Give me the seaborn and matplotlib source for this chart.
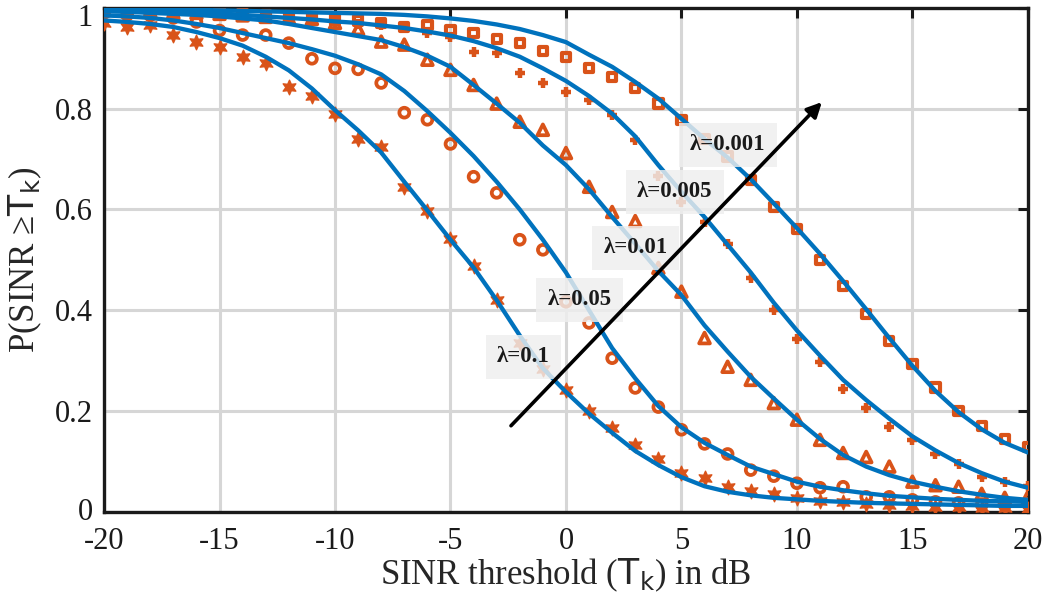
import matplotlib
matplotlib.use("Agg")
import matplotlib.pyplot as plt
import matplotlib.transforms as mtransforms
import numpy as np
import pandas as pd
import seaborn as sns

# ---------------- data ----------------
thr_db = list(range(-20, 21))

# analytical curves (blue lines)
ana_01 = [0.975, 0.972, 0.968, 0.962, 0.952, 0.940, 0.925, 0.903, 0.876, 0.840,
          0.797, 0.757, 0.713, 0.655, 0.598, 0.540, 0.485, 0.420, 0.350, 0.285,
          0.238, 0.195, 0.157, 0.121, 0.093, 0.069, 0.051, 0.040, 0.033, 0.028,
          0.025, 0.022, 0.020, 0.018, 0.017, 0.016, 0.015, 0.014, 0.013, 0.012, 0.012]
ana_005 = [0.985, 0.983, 0.980, 0.975, 0.968, 0.960, 0.950, 0.940, 0.930, 0.918,
           0.905, 0.888, 0.868, 0.835, 0.795, 0.752, 0.706, 0.655, 0.600, 0.540,
           0.475, 0.400, 0.325, 0.265, 0.210, 0.168, 0.137, 0.113, 0.090, 0.075,
           0.060, 0.050, 0.043, 0.037, 0.032, 0.029, 0.026, 0.024, 0.022, 0.021, 0.020]
ana_001 = [0.993, 0.992, 0.990, 0.988, 0.986, 0.983, 0.979, 0.975, 0.968, 0.960,
           0.952, 0.944, 0.936, 0.922, 0.905, 0.883, 0.847, 0.810, 0.772, 0.727,
           0.688, 0.640, 0.585, 0.532, 0.478, 0.430, 0.370, 0.318, 0.268, 0.225,
           0.183, 0.145, 0.113, 0.090, 0.073, 0.060, 0.050, 0.041, 0.034, 0.028, 0.024]
ana_0005 = [0.997, 0.996, 0.995, 0.993, 0.991, 0.989, 0.986, 0.983, 0.980, 0.977,
            0.973, 0.970, 0.965, 0.960, 0.953, 0.945, 0.934, 0.920, 0.903, 0.880,
            0.855, 0.825, 0.790, 0.745, 0.688, 0.635, 0.585, 0.530, 0.475, 0.415,
            0.360, 0.310, 0.262, 0.222, 0.185, 0.150, 0.122, 0.097, 0.077, 0.060, 0.048]
ana_0001 = [0.998, 0.998, 0.997, 0.997, 0.996, 0.995, 0.994, 0.993, 0.992, 0.991,
            0.990, 0.989, 0.988, 0.986, 0.983, 0.979, 0.974, 0.967, 0.958, 0.946,
            0.932, 0.907, 0.883, 0.853, 0.820, 0.780, 0.740, 0.703, 0.660, 0.612,
            0.563, 0.512, 0.458, 0.402, 0.345, 0.290, 0.240, 0.198, 0.164, 0.137, 0.118]

# simulation points (orange markers)
sim_01 = [0.970, 0.962, 0.966, 0.946, 0.933, 0.923, 0.903, 0.890, 0.843, 0.825,
          0.790, 0.740, 0.723, 0.645, 0.597, 0.542, 0.488, 0.420, 0.335, 0.283,
          0.242, 0.200, 0.167, 0.133, 0.105, 0.077, 0.068, 0.050, 0.042, 0.036,
          0.028, 0.022, 0.020, 0.015, 0.013, 0.012, 0.010, 0.009, 0.008, 0.007, 0.006]
sim_005 = [0.990, 0.986, 0.985, 0.980, 0.972, 0.955, 0.946, 0.946, 0.930, 0.899,
           0.880, 0.878, 0.851, 0.792, 0.778, 0.730, 0.665, 0.633, 0.540, 0.520,
           0.417, 0.375, 0.305, 0.246, 0.208, 0.163, 0.135, 0.115, 0.083, 0.071,
           0.057, 0.048, 0.050, 0.030, 0.030, 0.024, 0.020, 0.018, 0.014, 0.013, 0.016]
sim_001 = [0.995, 0.993, 0.993, 0.990, 0.990, 0.988, 0.985, 0.982, 0.980, 0.978,
           0.970, 0.958, 0.933, 0.927, 0.897, 0.877, 0.847, 0.810, 0.774, 0.758,
           0.712, 0.645, 0.595, 0.577, 0.484, 0.437, 0.345, 0.288, 0.262, 0.216,
           0.183, 0.143, 0.117, 0.109, 0.090, 0.060, 0.053, 0.050, 0.036, 0.028, 0.030]
sim_0005 = [0.998, 0.995, 0.993, 0.990, 0.990, 0.988, 0.985, 0.982, 0.980, 0.978,
            0.972, 0.968, 0.966, 0.960, 0.950, 0.943, 0.913, 0.910, 0.871, 0.851,
            0.833, 0.817, 0.788, 0.738, 0.667, 0.615, 0.575, 0.531, 0.464, 0.400,
            0.344, 0.298, 0.244, 0.206, 0.169, 0.143, 0.115, 0.095, 0.069, 0.060, 0.052]
sim_0001 = [0.995, 0.995, 0.993, 0.993, 0.990, 0.990, 0.988, 0.985, 0.983, 0.980,
            0.977, 0.975, 0.970, 0.962, 0.966, 0.956, 0.950, 0.938, 0.930, 0.915,
            0.903, 0.880, 0.863, 0.841, 0.810, 0.778, 0.740, 0.705, 0.659, 0.605,
            0.561, 0.500, 0.448, 0.393, 0.339, 0.294, 0.247, 0.200, 0.171, 0.145, 0.129]

lambda_labels = ["λ=0.1", "λ=0.05", "λ=0.01", "λ=0.005", "λ=0.001"]
label_x = [-1.84, 0.60, 3.03, 4.72, 7.01]
label_y = [0.308, 0.421, 0.524, 0.635, 0.728]
arrow_start = (-2.38, 0.171)
arrow_end = (11.08, 0.813)

x_ticks = [-20, -15, -10, -5, 0, 5, 10, 15, 20]
y_ticks = [0, 0.2, 0.4, 0.6, 0.8, 1.0]
y_ticklabels = ["0", "0.2", "0.4", "0.6", "0.8", "1"]

BLUE = "#0072BD"
ORANGE = "#D95319"

# ---------------- plot ----------------
sns.set_theme(style="white")
plt.rcParams["font.family"] = ["Liberation Serif", "DejaVu Serif"]
plt.rcParams["mathtext.fontset"] = "dejavusans"

fig = plt.figure(figsize=(10.51, 6.03), dpi=100)
ax = fig.add_axes([0.099, 0.151, 0.879, 0.836])

ana_sets = [ana_01, ana_005, ana_001, ana_0005, ana_0001]
sim_sets = [sim_01, sim_005, sim_001, sim_0005, sim_0001]
marker_styles = [
    dict(marker=(6, 1, 0), s=110, color=ORANGE, edgecolor=ORANGE, linewidth=1.0),
    dict(marker="o", s=50, facecolor="none", edgecolor=ORANGE, linewidth=2.7),
    dict(marker="^", s=60, facecolor="none", edgecolor=ORANGE, linewidth=2.7),
    dict(marker="+", s=50, color=ORANGE, linewidth=3.2),
    dict(marker="s", s=36, facecolor="none", edgecolor=ORANGE, linewidth=3.0),
]

for sim, style in zip(sim_sets, marker_styles):
    df = pd.DataFrame({"x": thr_db, "p": sim})
    sns.scatterplot(data=df, x="x", y="p", ax=ax, zorder=3, legend=False, **style)

for ana in ana_sets:
    df = pd.DataFrame({"x": thr_db, "p": ana})
    sns.lineplot(data=df, x="x", y="p", ax=ax, color=BLUE, lw=3.1, zorder=4,
                 legend=False)

for txt, lx, ly in zip(lambda_labels, label_x, label_y):
    ax.text(lx, ly, txt, ha="center", va="center", fontsize=16.5, fontweight="bold",
            color="#1a1a1a", zorder=6,
            bbox=dict(boxstyle="square,pad=0.5", fc="#efefef", ec="none", alpha=0.82))

ax.annotate("", xy=arrow_end, xytext=arrow_start, zorder=7,
            arrowprops=dict(arrowstyle="-|>", color="black", lw=2.6,
                            mutation_scale=22, shrinkA=0, shrinkB=0))

ax.set_xlim(-20, 20)
ax.set_ylim(0, 1)
ax.set_xticks(x_ticks)
ax.set_xticklabels([str(t) for t in x_ticks])
ax.set_yticks(y_ticks)
ax.set_yticklabels(y_ticklabels)
ax.grid(True, color="#d6d6d6", lw=2.2)
ax.set_axisbelow(True)
for sp in ax.spines.values():
    sp.set_visible(True)
    sp.set_color("#1a1a1a")
    sp.set_linewidth(2.4)
ax.tick_params(direction="in", top=True, right=True, length=7, width=2.2,
               labelsize=22, colors="#1a1a1a", pad=8)
ax.tick_params(axis="x", pad=11)

# nudge the top "1" label down slightly so it stays inside the figure
top_lab = ax.get_yticklabels()[-1]
top_lab.set_transform(top_lab.get_transform() +
                      mtransforms.ScaledTranslation(0, -5 / 72, fig.dpi_scale_trans))
# nudge the bottom "0" label up a touch, away from "-20"
bot_lab = ax.get_yticklabels()[0]
bot_lab.set_transform(bot_lab.get_transform() +
                      mtransforms.ScaledTranslation(0, 2 / 72, fig.dpi_scale_trans))

ax.set_xlabel(r"SINR threshold ($\mathrm{T_k}$) in dB", fontsize=25, labelpad=0)
ax.set_ylabel(r"P(SINR ≥$\mathrm{T_k}$)", fontsize=25, labelpad=8)

fig.savefig("out.png", dpi=100)
